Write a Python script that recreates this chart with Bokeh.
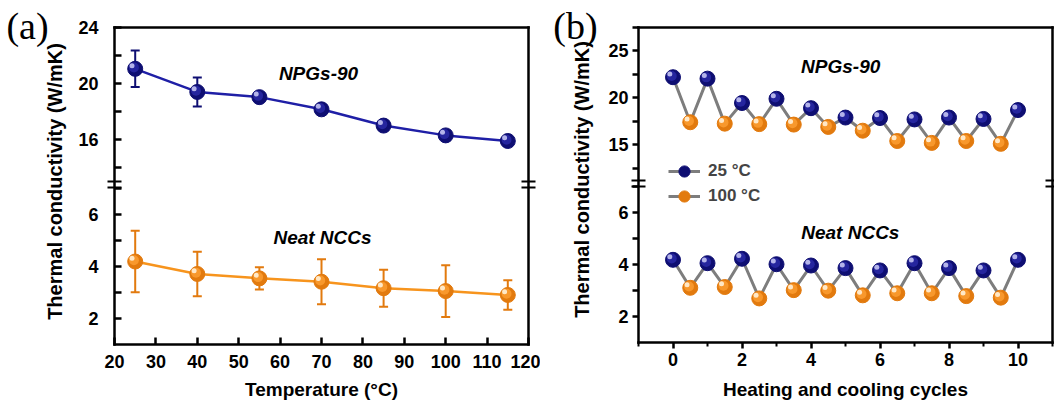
import math
from bokeh.plotting import figure
from bokeh.models import (Range1d, LinearAxis, FixedTicker, ColumnDataSource, Whisker,
                          TeeHead, Label, Legend, LegendItem, CustomJSTickFormatter)
from bokeh.layouts import row, column
from bokeh.transform import dodge
from bokeh.embed import file_html
from bokeh.resources import INLINE

# ---------------- data ----------------
temperature = [25, 40, 55, 70, 85, 100, 115]
npgs_k = [21.05, 19.4, 19.03, 18.16, 17.0, 16.3, 15.9]
npgs_err = [1.3, 1.03, 0.2, 0.2, 0.2, 0.2, 0.2]
ncc_k = [4.2, 3.72, 3.55, 3.42, 3.17, 3.06, 2.91]
ncc_err = [1.19, 0.86, 0.43, 0.87, 0.71, 1.0, 0.57]

cycles_25 = [0, 1, 2, 3, 4, 5, 6, 7, 8, 9, 10]
cycles_100 = [0.5, 1.5, 2.5, 3.5, 4.5, 5.5, 6.5, 7.5, 8.5, 9.5]
npgs_25 = [22.2, 22.05, 19.45, 19.9, 18.9, 17.9, 17.85, 17.7, 17.9, 17.75, 18.7]
npgs_100 = [17.4, 17.25, 17.2, 17.15, 16.9, 16.5, 15.4, 15.2, 15.4, 15.1]
ncc_25 = [4.19, 4.06, 4.23, 4.02, 3.97, 3.87, 3.78, 4.06, 3.87, 3.78, 4.19]
ncc_100 = [3.11, 3.14, 2.70, 3.02, 3.0, 2.82, 2.9, 2.9, 2.79, 2.73]

temp_ticks = [20, 30, 40, 50, 60, 70, 80, 90, 100, 110, 120]
a_upper_ticks, a_upper_minor = [16, 20, 24], [14, 18, 22]
a_lower_ticks, a_lower_minor = [2, 4, 6], [3, 5, 7]
cycle_ticks, cycle_minor = [0, 2, 4, 6, 8, 10], [-1, 1, 3, 5, 7, 9, 11]
b_upper_ticks, b_upper_minor = [15, 20, 25], [12.5, 17.5, 22.5, 27.5]
b_lower_ticks, b_lower_minor = [2, 4, 6], [3, 5, 7]

# ---------------- style ----------------
FONT = "Liberation Sans"
BLUE = ("#0e0e72", "#25259e", "#c4c4f2")
ORANGE = ("#e27a0e", "#f8982c", "#fff1d8")
BLUE_LINE, ORANGE_LINE, GRAY = "#1f1fa6", "#f7941d", "#7d7d7d"
YLABEL = "Thermal conductivity (W/mK)"

TOP, BOTTOM_BORDER, HEIGHT = 27, 56, 402
FRAME_H = HEIGHT - TOP - BOTTOM_BORDER  # 319
BREAK_PX = 158     # axis break below the frame top
BREAK_GAP = 2.6    # half distance between the two break strokes, px

BLANK = CustomJSTickFormatter(code='return "";')


def style_axis(ax, inside, labels):
    ax.axis_line_width = 2.5
    ax.axis_line_color = "black"
    ax.axis_line_cap = "square"
    ax.major_tick_line_width = 2.5
    ax.minor_tick_line_width = 2
    if inside:
        ax.major_tick_in, ax.major_tick_out = 7, 0
        ax.minor_tick_in, ax.minor_tick_out = 4, 0
    else:
        ax.major_tick_in, ax.major_tick_out = 0, 6
        ax.minor_tick_in, ax.minor_tick_out = 0, 4
    ax.major_label_text_font = FONT
    ax.major_label_text_font_style = "bold"
    ax.major_label_text_font_size = "18px"
    ax.major_label_text_color = "black"
    if not labels:
        ax.formatter = BLANK
        ax.major_label_standoff = 0


class Panel:
    def __init__(self, width, left, right, xr, lower_start, lower_ppu, upper_end, upper_ppu,
                 right_out):
        self.xr = xr
        self.frame_left = left
        self.frame_w = width - left - right
        self.right_out = right_out
        self.lo = Range1d(lower_start, lower_start + FRAME_H / lower_ppu)
        self.up = Range1d(upper_end - FRAME_H / upper_ppu, upper_end)
        self.brk = self.lo.start + (FRAME_H - BREAK_PX) / lower_ppu
        d = BREAK_GAP / lower_ppu
        self.brk_ticks = [self.brk - d, self.brk + d]
        p = figure(width=width, height=HEIGHT, x_range=xr, y_range=self.lo,
                   x_axis_location=None, y_axis_location=None,
                   toolbar_location=None, output_backend="svg",
                   min_border_left=left, min_border_right=right,
                   min_border_top=TOP, min_border_bottom=BOTTOM_BORDER)
        p.extra_y_ranges = {"upper": self.up}
        p.outline_line_color = None
        p.xgrid.visible = False
        p.ygrid.visible = False
        p.background_fill_color = "white"
        p.border_fill_color = "white"
        self.p = p

    def up_to_lo(self, v):
        return self.lo.start + (v - self.up.start) * (self.lo.end - self.lo.start) / (self.up.end - self.up.start)

    def px_x(self, px):
        return self.xr.start + (px - self.frame_left) * (self.xr.end - self.xr.start) / self.frame_w

    def y_axis(self, lower_ticks, lower_minor, upper_ticks, upper_minor, inside, standoff):
        labeled = list(lower_ticks) + [self.up_to_lo(v) for v in upper_ticks]
        texts = [str(v) for v in list(lower_ticks) + list(upper_ticks)]
        unlabeled = list(lower_minor) + [self.up_to_lo(v) for v in upper_minor]
        ax = LinearAxis(ticker=FixedTicker(ticks=labeled + unlabeled, minor_ticks=self.brk_ticks))
        style_axis(ax, inside, True)
        ax.formatter = CustomJSTickFormatter(args=dict(pos=labeled, txt=texts), code="""
            for (let i = 0; i < pos.length; i++) {
                if (Math.abs(pos[i] - tick) < 1e-6) return txt[i];
            }
            return "";
        """)
        # break strokes across the axis line
        ax.minor_tick_in, ax.minor_tick_out = 7, 7
        ax.minor_tick_line_width = 2.2
        ax.major_label_standoff = standoff
        self.p.add_layout(ax, "left")
        # plain right edge with the same break strokes
        rax = LinearAxis(ticker=FixedTicker(ticks=self.brk_ticks))
        style_axis(rax, True, False)
        rax.major_tick_in, rax.major_tick_out = 7, self.right_out
        rax.major_tick_line_width = 2.2
        self.p.add_layout(rax, "right")
        # plain top edge
        tax = LinearAxis(ticker=FixedTicker(ticks=[]))
        style_axis(tax, True, False)
        self.p.add_layout(tax, "above")

    def x_axis(self, ticks, minor, inside, label, standoff, label_standoff):
        ax = LinearAxis(ticker=FixedTicker(ticks=list(ticks), minor_ticks=list(minor)))
        style_axis(ax, inside, True)
        ax.major_label_standoff = standoff
        ax.axis_label = label
        ax.axis_label_text_font = FONT
        ax.axis_label_text_font_style = "bold"
        ax.axis_label_text_font_size = "19px"
        ax.axis_label_text_color = "black"
        ax.axis_label_standoff = label_standoff
        self.p.add_layout(ax, "below")


def note(p, x, y, text, rng="default"):
    p.add_layout(Label(x=x, y=y, text=text, text_font=FONT, y_range_name=rng,
                       text_font_style="bold italic", text_font_size="19px",
                       text_align="center", text_baseline="middle",
                       text_color="black"))


def spheres(p, source, shades, dx, dy, rng="default", size=15):
    base, mid, hl = shades
    r = p.scatter("x", "y", source=source, size=size, fill_color=base,
                  line_color=base, line_width=1, y_range_name=rng)
    p.scatter(x=dodge("x", dx * 0.4), y=dodge("y", dy * 0.4), source=source,
              size=size - 5, fill_color=mid, line_color=None, y_range_name=rng)
    p.scatter(x=dodge("x", dx), y=dodge("y", dy), source=source, size=5,
              fill_color=hl, line_color=None, fill_alpha=0.9, y_range_name=rng)
    return r


def label_fig(width, tag, tag_xy, ylab_xy):
    p = figure(width=width, height=HEIGHT, x_range=Range1d(0, width), y_range=Range1d(0, HEIGHT),
               x_axis_location=None, y_axis_location=None, toolbar_location=None,
               output_backend="svg", min_border=0)
    p.outline_line_color = None
    p.xgrid.visible = False
    p.ygrid.visible = False
    p.add_layout(Label(x=tag_xy[0], y=HEIGHT - tag_xy[1], text=tag,
                       text_font="Liberation Serif", text_font_size="38px",
                       text_align="center", text_baseline="middle", text_color="black"))
    p.add_layout(Label(x=ylab_xy[0], y=HEIGHT - ylab_xy[1], text=YLABEL,
                       angle=math.pi / 2, text_font=FONT, text_font_style="bold",
                       text_font_size="20px", text_align="center",
                       text_baseline="middle", text_color="black"))
    return p


# ---------------- panel (a) ----------------
A_OFF = 70
A = Panel(470, 44, 12, Range1d(20, 120), 1.0, 26.1, 24.0, 14.1, right_out=7)
pa = A.p
A.y_axis(a_lower_ticks, a_lower_minor, a_upper_ticks, a_upper_minor, inside=True, standoff=9)
A.x_axis(temp_ticks, [], True, "Temperature (°C)", 10, 8)

for vals, errs, shades, lcol, rng, dy in (
        (npgs_k, npgs_err, BLUE, BLUE_LINE, "upper", 3.2 / 14.1),
        (ncc_k, ncc_err, ORANGE, ORANGE_LINE, "default", 3.2 / 26.1)):
    src = ColumnDataSource(dict(x=temperature, y=vals,
                                lo=[v - e for v, e in zip(vals, errs)],
                                hi=[v + e for v, e in zip(vals, errs)]))
    col = shades[0]
    pa.add_layout(Whisker(source=src, base="x", lower="lo", upper="hi", line_color=col,
                          line_width=2, y_range_name=rng,
                          upper_head=TeeHead(size=9, line_color=col, line_width=2),
                          lower_head=TeeHead(size=9, line_color=col, line_width=2)))
    pa.line("x", "y", source=src, line_color=lcol, line_width=2.5, y_range_name=rng)
    spheres(pa, src, shades, -3.2 / 4.14, dy, rng=rng, size=15)

note(pa, A.px_x(318 - A_OFF), 20.7, "NPGs-90", rng="upper")
note(pa, A.px_x(322 - A_OFF), 5.14, "Neat NCCs")
lab_a = label_fig(A_OFF, "(a)", (27, 25), (54, 181))

# ---------------- panel (b) ----------------
B = Panel(454, 38, 2, Range1d(-1, 11), 1.0, 26.25, 27.5, 9.5, right_out=2)
pb = B.p
B.y_axis(b_lower_ticks, b_lower_minor, b_upper_ticks, b_upper_minor, inside=False, standoff=3)
B.x_axis(cycle_ticks, cycle_minor, False, "Heating and cooling cycles", 4, 10)


def zigzag(xs1, ys1, xs2, ys2):
    pts = sorted(list(zip(xs1, ys1)) + list(zip(xs2, ys2)))
    return [a for a, _ in pts], [b for _, b in pts]


legend_parts = []
for v25, v100, rng, dy in ((npgs_25, npgs_100, "upper", 3.2 / 9.5),
                           (ncc_25, ncc_100, "default", 3.2 / 26.25)):
    zx, zy = zigzag(cycles_25, v25, cycles_100, v100)
    ln = pb.line(zx, zy, line_color=GRAY, line_width=3, y_range_name=rng)
    r25 = spheres(pb, ColumnDataSource(dict(x=cycles_25, y=v25)), BLUE, -3.2 / 34.5, dy, rng=rng)
    r100 = spheres(pb, ColumnDataSource(dict(x=cycles_100, y=v100)), ORANGE, -3.2 / 34.5, dy, rng=rng)
    legend_parts.append((ln, r25, r100))

for label, rr, center_px in (("25 °C", (legend_parts[0][0], legend_parts[0][1]), 175),
                             ("100 °C", (legend_parts[1][0], legend_parts[1][2]), 200)):
    gh = 28
    bottom_px = center_px + gh / 2
    lg = Legend(items=[LegendItem(label=label, renderers=list(rr))],
                location=(30, int(round(TOP + FRAME_H - bottom_px))),
                glyph_width=32, glyph_height=gh, label_standoff=8, padding=0, margin=0,
                spacing=0, background_fill_alpha=0, border_line_color=None,
                label_text_font=FONT, label_text_font_style="bold",
                label_text_font_size="17px", label_height=gh)
    pb.add_layout(lg)

note(pb, 4.86, 23.3, "NPGs-90", rng="upper")
note(pb, 5.14, 5.23, "Neat NCCs")
lab_b = label_fig(60, "(b)", (35, 25), (41, 179))

layout = row(column(lab_a), column(pa), column(lab_b), column(pb))
open("out.html", "w").write(file_html(layout, INLINE))
